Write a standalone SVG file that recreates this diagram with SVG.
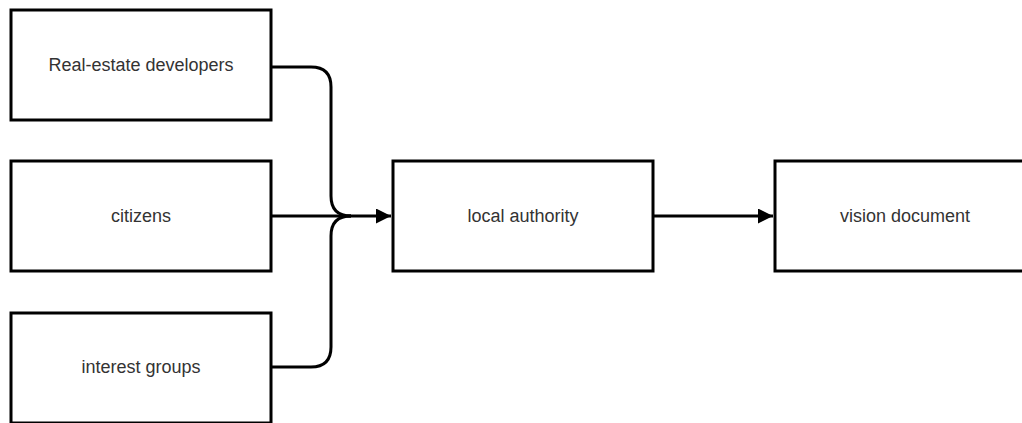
<svg xmlns="http://www.w3.org/2000/svg" width="1022" height="423" viewBox="0 0 1022 423">
  <style>
    .box { fill: #ffffff; stroke: #000000; stroke-width: 3; }
    .label { font-family: "Liberation Sans", Arial, sans-serif; font-size: 18px; fill: #333333; text-anchor: middle; }
    .wire { fill: none; stroke: #000000; stroke-width: 3; }
  </style>
  <defs>
    <marker id="arrow" viewBox="0 0 10 10" refX="10" refY="5" markerWidth="5" markerHeight="5" markerUnits="strokeWidth" orient="auto">
      <path d="M0,0 L10,5 L0,10 Z" fill="#000000"/>
    </marker>
  </defs>

  <g id="connectors">
    <path class="wire" d="M271,67 H311 Q331,67 331,87 V196 Q331,216 351,216"/>
    <path class="wire" d="M271,216 H391" marker-end="url(#arrow)"/>
    <path class="wire" d="M271,367 H311 Q331,367 331,347 V236 Q331,216 351,216"/>
    <path class="wire" d="M654,216 H773" marker-end="url(#arrow)"/>
  </g>

  <g id="developers">
    <rect class="box" x="11" y="10" width="260" height="110"/>
    <text class="label" x="141" y="71">Real-estate developers</text>
  </g>
  <g id="citizens">
    <rect class="box" x="11" y="161" width="260" height="110"/>
    <text class="label" x="141" y="222">citizens</text>
  </g>
  <g id="interest-groups">
    <rect class="box" x="11" y="313" width="260" height="110"/>
    <text class="label" x="141" y="373">interest groups</text>
  </g>
  <g id="local-authority">
    <rect class="box" x="393" y="161" width="260" height="110"/>
    <text class="label" x="523" y="222">local authority</text>
  </g>
  <g id="vision-document">
    <rect class="box" x="775" y="161" width="260" height="110"/>
    <text class="label" x="905" y="222">vision document</text>
  </g>
</svg>
